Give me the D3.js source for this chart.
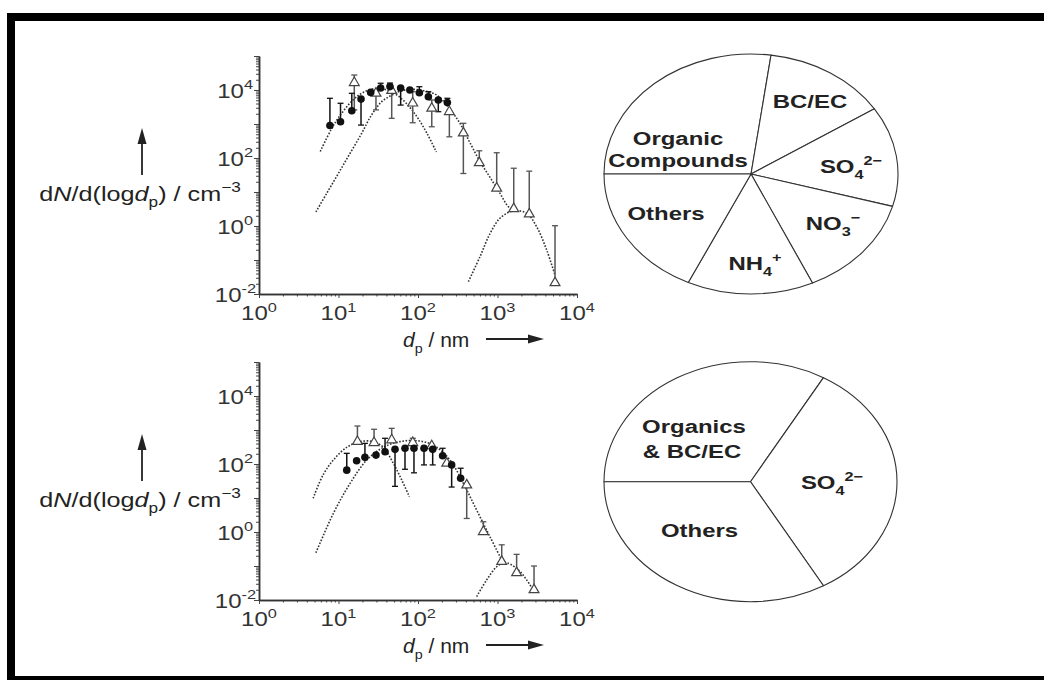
<!DOCTYPE html>
<html><head><meta charset="utf-8">
<script src="https://cdn.jsdelivr.net/npm/d3@7"></script>
<style>
html,body{margin:0;padding:0;background:#fff;}
svg{display:block;}
text{font-family:"Liberation Sans", Arial, Helvetica, sans-serif;}
</style></head><body>
<svg id="fig" width="1044" height="680"></svg>
<script>
// ---------- Upper panel: size distribution (d_p in nm, dN/dlogd_p in cm^-3) ----------
const topCircD  = [7.8, 10.6, 14.7, 19.2, 25.4, 33.9, 44.4, 60.5, 79, 104, 135, 180, 234];
const topCircN  = [900, 1170, 2450, 5400, 8500, 11500, 12600, 11500, 10000, 8300, 6300, 5100, 4300];
const topCircLo = [900, 1170, 2450, 930, 8500, 11500, 12600, 3600, 10000, 8300, 6300, 2300, 4300];
const topCircHi = [5700, 4070, 8000, 5400, 8500, 15800, 16000, 11500, 10000, 12500, 8900, 5100, 5700];

const topTriD  = [15.8, 29.6, 46.7, 85.8, 149, 248, 372, 590, 977, 1600, 2510, 5290];
const topTriN  = [16400, 8000, 9600, 4100, 2880, 2300, 540, 72, 12.9, 3.2, 2.24, 0.0214];
const topTriLo = [2600, 2600, 1470, 1090, 830, 420, 35, 72, 12.9, 3.2, 2.24, 0.0214];
const topTriHi = [27600, 8000, 9600, 8900, 5100, 2300, 1050, 163, 143, 50, 41, 1.02];

const topModeAD = [5.9, 8, 10, 15, 20, 30, 45, 60, 80, 100, 130, 170];
const topModeAN = [155, 658, 1540, 4910, 8240, 11190, 9230, 5940, 2980, 1470, 526, 150];
const topModeBD = [5.2, 7.1, 9.95, 14, 19.6, 26, 35, 47, 62, 87, 117, 172, 253, 337, 451, 603, 805, 1075, 1370, 1580];
const topModeBN = [2.6, 9.1, 35, 138, 535, 1830, 4550, 7100, 9550, 10500, 9550, 7100, 2700, 1050, 280, 78, 27, 9.1, 3.7, 3.0];
const topModeCD = [430, 603, 805, 1075, 1580, 2330, 3110, 4160, 5290];
const topModeCN = [0.023, 0.126, 0.60, 1.69, 2.8, 2.36, 0.95, 0.195, 0.036];

// ---------- Lower panel ----------
const botCircD  = [12.7, 16.9, 21.5, 29.6, 38.5, 51.4, 68.6, 89, 119, 153, 204, 265, 344];
const botCircN  = [66, 125, 157, 183, 230, 270, 290, 290, 290, 270, 175, 94, 38];
const botCircLo = [66, 125, 157, 183, 230, 22, 70, 55, 94, 94, 175, 21, 38];
const botCircHi = [206, 125, 405, 183, 570, 270, 290, 290, 290, 270, 290, 94, 75];

const botTriD  = [17.3, 28, 46.7, 86, 149, 230, 410, 664, 1130, 1740, 2880];
const botTriN  = [455, 423, 510, 423, 340, 105, 24, 1.02, 0.135, 0.063, 0.020];
const botTriLo = [455, 423, 510, 423, 340, 105, 2.5, 1.02, 0.135, 0.063, 0.020];
const botTriHi = [1310, 1050, 1120, 570, 340, 105, 24, 2.0, 0.42, 0.22, 0.10];

const botModeAD = [4.8, 6.4, 8.6, 12.7, 18.6, 27.4, 36.6, 48.9, 62.4, 77.8];
const botModeAN = [9.8, 48, 130, 310, 455, 455, 310, 105, 34, 11];
const botModeBD = [5.2, 8.6, 14, 22.6, 36.6, 59, 96, 156, 253, 372, 547, 805, 1130];
const botModeBN = [0.245, 3.5, 27, 130, 310, 455, 485, 360, 130, 27, 4.4, 0.72, 0.15];
const botModeCD = [547, 731, 977, 1240, 1740, 2330, 2960];
const botModeCN = [0.0126, 0.039, 0.095, 0.126, 0.085, 0.039, 0.016];

// ---------- Axis ticks ----------
const xDecades = [0, 1, 2, 3, 4];
const yDecadesLabelled = [4, 2, 0, -2];

// ---------- Chemical composition ----------
const topPieNames  = ["Organic Compounds", "BC/EC", "SO4", "NO3", "NH4", "Others"];
const topPieShares = [27.2, 13.7, 13.5, 13.8, 13.9, 18.0];
const botPieNames  = ["Organics & BC/EC", "SO4", "Others"];
const botPieShares = [33.3, 33.4, 33.3];

// ---------------------------------------------------------------
const svg = d3.select("#fig");
const INK = "#222";

// border
svg.append("rect").attr("x", 7).attr("y", 13).attr("width", 1037).attr("height", 8).attr("fill", "#000");
svg.append("rect").attr("x", 7).attr("y", 13).attr("width", 8).attr("height", 667).attr("fill", "#000");
svg.append("rect").attr("x", 7).attr("y", 676).attr("width", 1037).attr("height", 4).attr("fill", "#000");

// text with sub/superscripts, horizontally stretched
function richText(parent, x, y, parts, o) {
  const g = parent.append("g").attr("transform", `translate(${x},${y}) scale(${o.sx || 1},1)`);
  const t = g.append("text")
    .attr("text-anchor", o.anchor || "start")
    .attr("font-size", o.size)
    .attr("font-weight", o.weight || "normal")
    .attr("fill", o.fill || INK);
  let shift = 0;
  parts.forEach(p => {
    const target = p.sub ? o.size * 0.3 : p.sup ? -o.size * 0.42 : 0;
    const ts = t.append("tspan").text(p.t).attr("dy", target - shift);
    shift = target;
    if (p.sub || p.sup) ts.attr("font-size", o.size * 0.68);
    if (p.it) ts.attr("font-style", "italic");
  });
  return g;
}

function zip(ds, ns) { return ds.map((d, i) => ({ d, n: ns[i] })); }

function panel(y0, circ, tri, modes) {
  const x = d3.scaleLog().domain([1, 1e4]).range([259, 577]);
  const y = d3.scaleLog().domain([1e-2, 1e5]).range([y0, y0 - 238]);
  const g = svg.append("g");

  const isDecade = v => Math.abs(Math.log10(v) - Math.round(Math.log10(v))) < 1e-9;
  const xAll = x.ticks(), yAll = y.ticks();

  const styleAxis = sel => {
    sel.select(".domain").attr("stroke", "#333").attr("stroke-width", 1.5);
    sel.selectAll(".tick line").attr("stroke", "#444").attr("stroke-width", 1);
  };
  // x axis: minor then major ticks
  g.append("g").attr("transform", `translate(0,${y0})`)
    .call(d3.axisBottom(x).tickValues(xAll.filter(v => !isDecade(v))).tickSize(2.5).tickSizeOuter(0).tickFormat(""))
    .call(styleAxis);
  g.append("g").attr("transform", `translate(0,${y0})`)
    .call(d3.axisBottom(x).tickValues(xAll.filter(isDecade)).tickSize(4).tickSizeOuter(0).tickFormat(""))
    .call(styleAxis);
  // y axis
  g.append("g").attr("transform", "translate(259,0)")
    .call(d3.axisLeft(y).tickValues(yAll.filter(v => !isDecade(v))).tickSize(3).tickSizeOuter(0).tickFormat(""))
    .call(styleAxis);
  g.append("g").attr("transform", "translate(259,0)")
    .call(d3.axisLeft(y).tickValues(yAll.filter(isDecade)).tickSize(5).tickSizeOuter(0).tickFormat(""))
    .call(styleAxis);

  // tick labels
  xDecades.forEach(e => richText(g, x(Math.pow(10, e)), y0 + 26,
    [{ t: "10" }, { t: String(e), sup: true }], { size: 20, anchor: "middle", sx: 1.2, fill: "#333" }));
  yDecadesLabelled.forEach(e => richText(g, e < 0 ? 256 : 253, y(Math.pow(10, e)) + 7.5,
    [{ t: "10" }, { t: String(e), sup: true }], { size: 20, anchor: "end", sx: 1.2, fill: "#333" }));

  // axis titles and arrows
  richText(g, 140, y0 - 93,
    [{ t: "d" }, { t: "N", it: true }, { t: "/d(log" }, { t: "d", it: true }, { t: "p", sub: true }, { t: ") / cm" }, { t: "\u22123", sup: true }],
    { size: 21, anchor: "middle", sx: 1.2 });
  g.append("line").attr("x1", 142).attr("x2", 142).attr("y1", y0 - 119).attr("y2", y0 - 152)
    .attr("stroke", INK).attr("stroke-width", 1.8);
  g.append("path").attr("d", `M142,${y0 - 166} L137.5,${y0 - 150} L146.5,${y0 - 150} Z`).attr("fill", INK);

  richText(g, 403, y0 + 53, [{ t: "d", it: true }, { t: "p", sub: true }, { t: " / nm" }], { size: 20, anchor: "start", sx: 1.05 });
  g.append("line").attr("x1", 486).attr("x2", 530).attr("y1", y0 + 45).attr("y2", y0 + 45)
    .attr("stroke", INK).attr("stroke-width", 1.8);
  g.append("path").attr("d", `M544,${y0 + 45} L528,${y0 + 40.5} L528,${y0 + 49.5} Z`).attr("fill", INK);

  // fitted modes (dotted)
  const line = d3.line().x(p => x(p.d)).y(p => y(p.n)).curve(d3.curveCatmullRom.alpha(0.5));
  modes.forEach(m => g.append("path").attr("d", line(m)).attr("fill", "none")
    .attr("stroke", "#333").attr("stroke-width", 1.6).attr("stroke-dasharray", "1.6,1.6"));

  // error bars
  function bars(set, color) {
    set.forEach(p => {
      if (p.lo === p.hi) return;
      g.append("line").attr("x1", x(p.d)).attr("x2", x(p.d)).attr("y1", y(p.lo)).attr("y2", y(p.hi))
        .attr("stroke", color).attr("stroke-width", 1.5);
      [p.lo, p.hi].forEach(v => {
        if (v !== p.n) g.append("line").attr("x1", x(p.d) - 3).attr("x2", x(p.d) + 3)
          .attr("y1", y(v)).attr("y2", y(v)).attr("stroke", color).attr("stroke-width", 1.3);
      });
    });
  }
  bars(tri, "#555");
  bars(circ, "#111");

  // markers
  const triSym = d3.symbol().type(d3.symbolTriangle).size(42);
  g.selectAll(".tri").data(tri).join("path").attr("class", "tri")
    .attr("d", triSym).attr("transform", p => `translate(${x(p.d)},${y(p.n)})`)
    .attr("fill", "#fff").attr("stroke", "#444").attr("stroke-width", 1.2);
  g.selectAll(".circ").data(circ).join("circle").attr("class", "circ")
    .attr("cx", p => x(p.d)).attr("cy", p => y(p.n)).attr("r", 3.8).attr("fill", "#111");
}

function withErr(ds, ns, lo, hi) { return ds.map((d, i) => ({ d, n: ns[i], lo: lo[i], hi: hi[i] })); }

panel(294,
  withErr(topCircD, topCircN, topCircLo, topCircHi),
  withErr(topTriD, topTriN, topTriLo, topTriHi),
  [zip(topModeAD, topModeAN), zip(topModeBD, topModeBN), zip(topModeCD, topModeCN)]);
panel(600,
  withErr(botCircD, botCircN, botCircLo, botCircHi),
  withErr(botTriD, botTriN, botTriLo, botTriHi),
  [zip(botModeAD, botModeAN), zip(botModeBD, botModeBN), zip(botModeCD, botModeCN)]);

// ---------- pie charts (drawn on a unit circle, stretched to an ellipse) ----------
function pie(cx, cy, rx, ry, shares) {
  const R = 100;
  const arcs = d3.pie().sort(null).startAngle(-Math.PI / 2).endAngle(1.5 * Math.PI)(shares);
  const arc = d3.arc().innerRadius(0).outerRadius(R);
  const g = svg.append("g").attr("transform", `translate(${cx},${cy}) scale(${rx / R},${ry / R})`);
  g.selectAll("path").data(arcs).join("path").attr("d", arc)
    .attr("fill", "#fff").attr("stroke", "#333").attr("stroke-width", 1.1)
    .attr("vector-effect", "non-scaling-stroke").attr("stroke-linejoin", "round");
}
pie(751, 174, 147, 120, topPieShares);
pie(750.5, 481.7, 146.5, 120, botPieShares);

// slice labels
const B = { size: 19, anchor: "middle", weight: "bold", sx: 1.26 };
const topLabelParts = {
  "Organic Compounds": [[678, 145, [{ t: "Organic" }]], [678, 167, [{ t: "Compounds" }]]],
  "BC/EC": [[810, 108, [{ t: "BC/EC" }]]],
  "SO4": [[851, 173, [{ t: "SO" }, { t: "4", sub: true }, { t: "2\u2212", sup: true }]]],
  "NO3": [[833, 230, [{ t: "NO" }, { t: "3", sub: true }, { t: "\u2212", sup: true }]]],
  "NH4": [[755, 270, [{ t: "NH" }, { t: "4", sub: true }, { t: "+", sup: true }]]],
  "Others": [[666, 220, [{ t: "Others" }]]]
};
const botLabelParts = {
  "Organics & BC/EC": [[694, 433, [{ t: "Organics" }]], [692, 458, [{ t: "& BC/EC" }]]],
  "SO4": [[832, 489, [{ t: "SO" }, { t: "4", sub: true }, { t: "2\u2212", sup: true }]]],
  "Others": [[699.5, 537, [{ t: "Others" }]]]
};
topPieNames.forEach(nm => topLabelParts[nm].forEach(([lx, ly, parts]) => richText(svg, lx, ly, parts, B)));
botPieNames.forEach(nm => botLabelParts[nm].forEach(([lx, ly, parts]) => richText(svg, lx, ly, parts, B)));
</script>
</body></html>
